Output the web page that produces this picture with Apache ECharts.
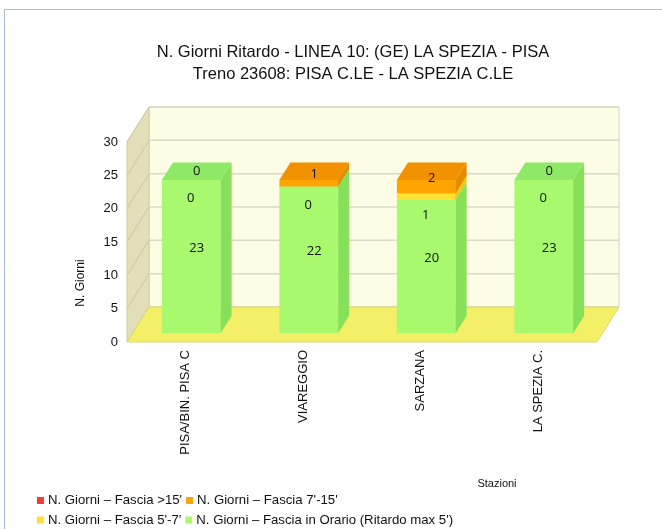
<!DOCTYPE html>
<html>
<head>
<meta charset="utf-8">
<script src="https://cdn.jsdelivr.net/npm/echarts@6/dist/echarts.min.js"></script>
<style>
  html, body { margin: 0; padding: 0; background: #fff; }
  #chart { width: 662px; height: 529px; }
</style>
</head>
<body>
<div id="chart"></div>
<script>
// dati
const categories = ['PISA/BIN. PISA C', 'VIAREGGIO', 'SARZANA', 'LA SPEZIA C.'];
const fasciaOrario = [23, 22, 20, 23];
const fascia5_7 = [0, 0, 1, 0];
const fascia7_15 = [0, 1, 2, 0];
const fascia15 = [0, 0, 0, 0];
const yTicks = [0, 5, 10, 15, 20, 25, 30];

const NAME_ORARIO = "N. Giorni – Fascia in Orario (Ritardo max 5')";
const NAME_57 = "N. Giorni – Fascia 5'-7'";
const NAME_715 = "N. Giorni – Fascia 7'-15'";
const NAME_15 = "N. Giorni – Fascia >15'";

// proiezione obliqua (profondità piena)
const DX = 22, DY = -35;
const Z_FRONT = 0.25, Z_BACK = 0.75, Z_LABEL = 0.5;
const BAR_RATIO = 0.5;
const FONT = '"Liberation Sans", Arial, sans-serif';

const proj = (x, y, z) => [x + z * DX, y + z * DY];

// basi dello stack
const layers = [
  { name: NAME_ORARIO, values: fasciaOrario, colors: ['#a9f96f', '#86e05a', '#8eea66'], labelOffset: [0, 0], showLabel: true },
  { name: NAME_57, values: fascia5_7, colors: ['#ffe135', '#e8c822', '#f2d52c'], labelOffset: [-6, 27], showLabel: true },
  { name: NAME_715, values: fascia7_15, colors: ['#ffa400', '#e48b00', '#f39200'], labelOffset: [0, 0], showLabel: true },
  { name: NAME_15, values: fascia15, colors: ['#ff3838', '#e02a2a', '#f03030'], labelOffset: [0, 0], showLabel: false }
];
const bases = layers.map((l, li) => categories.map((c, i) => {
  let s = 0;
  for (let k = 0; k < li; k++) s += layers[k].values[i];
  return s;
}));

function boxRenderer(layer) {
  return function (params, api) {
    const idx = api.value(0), base = api.value(1), val = api.value(2);
    const bottom = api.coord([idx, base]);
    const top = api.coord([idx, base + val]);
    const hw = api.size([1, 0])[0] * BAR_RATIO / 2;
    const xl = bottom[0] - hw, xr = bottom[0] + hw;
    const y0 = bottom[1], y1 = top[1];
    const children = [];
    if (val > 0) {
      const [cf, cs, ct] = layer.colors;
      children.push({
        type: 'polygon',
        shape: { points: [proj(xl, y1, Z_FRONT), proj(xr, y1, Z_FRONT), proj(xr, y0, Z_FRONT), proj(xl, y0, Z_FRONT)] },
        style: { fill: cf }
      });
      children.push({
        type: 'polygon',
        shape: { points: [proj(xr, y0, Z_FRONT), proj(xr, y1, Z_FRONT), proj(xr, y1, Z_BACK), proj(xr, y0, Z_BACK)] },
        style: { fill: cs }
      });
      children.push({
        type: 'polygon',
        shape: { points: [proj(xl, y1, Z_FRONT), proj(xr, y1, Z_FRONT), proj(xr, y1, Z_BACK), proj(xl, y1, Z_BACK)] },
        style: { fill: ct }
      });
    }
    if (layer.showLabel) {
      const mid = api.coord([idx, base + val / 2]);
      const p = proj(mid[0], mid[1], Z_LABEL);
      children.push({
        type: 'text',
        style: {
          text: String(val),
          x: p[0] + layer.labelOffset[0],
          y: p[1] + layer.labelOffset[1],
          align: 'center',
          verticalAlign: 'middle',
          fill: '#111',
          font: '13px "Open Sans", sans-serif'
        }
      });
    }
    return { type: 'group', children };
  };
}

function wallsRenderer(params, api) {
  const cs = params.coordSys;
  const x0 = cs.x, x1 = cs.x + cs.width;
  const yB = api.coord([0, 0])[1];
  const yT = api.coord([0, yTicks[yTicks.length - 1]])[1];
  const children = [];
  // parete di fondo
  children.push({
    type: 'polygon',
    shape: { points: [proj(x0, yT, 1), proj(x1, yT, 1), proj(x1, yB, 1), proj(x0, yB, 1)] },
    style: { fill: '#fdfde5', stroke: '#d3d3c4', lineWidth: 1 }
  });
  // parete laterale
  children.push({
    type: 'polygon',
    shape: { points: [[x0, yB], [x0, yT], proj(x0, yT, 1), proj(x0, yB, 1)] },
    style: { fill: '#e3dfb8', stroke: '#cfcaa0', lineWidth: 1 }
  });
  yTicks.forEach(t => {
    const y = api.coord([0, t])[1];
    children.push({
      type: 'line',
      shape: { x1: proj(x0, y, 1)[0], y1: proj(x0, y, 1)[1], x2: proj(x1, y, 1)[0], y2: proj(x1, y, 1)[1] },
      style: { stroke: '#d9d9c6', lineWidth: 1.5 }
    });
    children.push({
      type: 'line',
      shape: { x1: x0, y1: y, x2: proj(x0, y, 1)[0], y2: proj(x0, y, 1)[1] },
      style: { stroke: '#cdc8a2', lineWidth: 1 }
    });
  });
  // pavimento
  children.push({
    type: 'polygon',
    shape: { points: [[x0, yB], [x1, yB], proj(x1, yB, 1), proj(x0, yB, 1)] },
    style: { fill: '#f3f068', stroke: '#dcd870', lineWidth: 1 }
  });
  return { type: 'group', children };
}

const series = [{
  name: 'walls',
  type: 'custom',
  silent: true,
  renderItem: wallsRenderer,
  data: [[0, 0]],
  z: 1
}].concat(layers.map((l, li) => ({
  name: l.name,
  type: 'custom',
  renderItem: boxRenderer(l),
  itemStyle: { color: l.colors[0] },
  data: categories.map((c, i) => [i, bases[li][i], l.values[i]]),
  z: 2 + li
})));

const legendText = { fontFamily: FONT, fontSize: 13.2, color: '#111', padding: [0, 0, 0, -1] };

const chart = echarts.init(document.getElementById('chart'));
chart.setOption({
  animation: false,
  graphic: [{
    type: 'rect',
    shape: { x: 4.5, y: 9.5, width: 700, height: 600 },
    style: { fill: null, stroke: '#a9bcd6', lineWidth: 1 },
    silent: true
  }],
  title: {
    text: 'N. Giorni Ritardo - LINEA 10: (GE) LA SPEZIA - PISA\nTreno 23608: PISA C.LE - LA SPEZIA C.LE',
    left: 348,
    top: 36,
    textAlign: 'center',
    textStyle: { fontFamily: FONT, fontSize: 16.5, fontWeight: 'normal', color: '#111', lineHeight: 22 }
  },
  legend: [{
    data: [NAME_15, NAME_715],
    left: 32, top: 489,
    icon: 'rect', itemWidth: 7, itemHeight: 7, itemGap: 4,
    textStyle: legendText
  }, {
    data: [NAME_57, NAME_ORARIO],
    left: 32, top: 508.5,
    icon: 'rect', itemWidth: 7, itemHeight: 7, itemGap: 4,
    textStyle: legendText
  }],
  grid: { left: 127, right: 65, top: 142, bottom: 187 },
  xAxis: {
    type: 'category',
    data: categories,
    name: 'Stazioni',
    nameLocation: 'middle',
    nameGap: 136,
    nameTextStyle: { fontFamily: FONT, fontSize: 11, color: '#111', padding: [0, 0, 0, 270] },
    axisLine: { show: false },
    axisTick: { show: false },
    axisLabel: { rotate: 90, margin: 8, fontFamily: FONT, fontSize: 13, color: '#111' }
  },
  yAxis: {
    type: 'value',
    min: 0, max: 30, interval: 5,
    name: 'N. Giorni',
    nameLocation: 'middle',
    nameGap: 40,
    nameTextStyle: { fontFamily: FONT, fontSize: 12, color: '#111', padding: [0, 82, 0, 0] },
    axisLine: { show: false },
    axisTick: { show: false },
    splitLine: { show: false },
    axisLabel: { margin: 9, fontFamily: FONT, fontSize: 13, color: '#111' }
  },
  series
});
</script>
</body>
</html>
